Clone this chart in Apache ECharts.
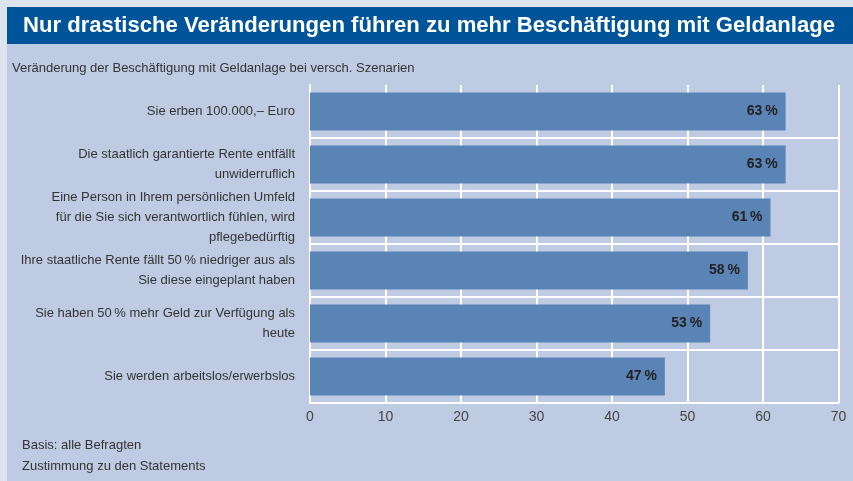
<!DOCTYPE html>
<html>
<head>
<meta charset="utf-8">
<script src="https://cdn.jsdelivr.net/npm/echarts@6/dist/echarts.min.js"></script>
<style>
  html, body { margin: 0; padding: 0; }
  #chart { width: 853px; height: 481px; }
</style>
</head>
<body>
<div id="chart"></div>
<script>
// Szenarien, von oben nach unten
let categories = [
  'Sie erben 100.000,– Euro',
  'Die staatlich garantierte Rente entfällt\nunwiderruflich',
  'Eine Person in Ihrem persönlichen Umfeld\nfür die Sie sich verantwortlich fühlen, wird\npflegebedürftig',
  'Ihre staatliche Rente fällt 50\u202f% niedriger aus als\nSie diese eingeplant haben',
  'Sie haben 50\u202f% mehr Geld zur Verfügung als\nheute',
  'Sie werden arbeitslos/erwerbslos'
];
let values = [63, 63, 61, 58, 53, 47];
let xTicks = [0, 10, 20, 30, 40, 50, 60, 70];

let titleText = 'Nur drastische Veränderungen führen zu mehr Beschäftigung mit Geldanlage';
let fontName = '"Liberation Sans", Arial, sans-serif';

// Titel auf die Breite des Originals stauchen (schmale Schrift nicht vorhanden)
let titleFont = 'bold 22px ' + fontName;
let ctx = document.createElement('canvas').getContext('2d');
ctx.font = titleFont;
let titleScale = 812 / ctx.measureText(titleText).width;

let chart = echarts.init(document.getElementById('chart'), null, { renderer: 'canvas' });

let option = {
  backgroundColor: '#dde4f0',
  animation: false,
  textStyle: { fontFamily: fontName },
  graphic: [
    {
      type: 'rect',
      shape: { x: 7, y: 44, width: 846, height: 437 },
      style: { fill: '#bfcbe3' },
      z: -10
    },
    {
      type: 'rect',
      shape: { x: 7, y: 7, width: 846, height: 37 },
      style: { fill: '#00559a' },
      z: -10
    },
    {
      type: 'text',
      x: 23,
      y: 26,
      scaleX: titleScale,
      style: {
        text: titleText,
        fill: '#ffffff',
        font: titleFont,
        verticalAlign: 'middle'
      }
    },
    {
      type: 'text',
      left: 12,
      top: 62,
      style: {
        text: 'Veränderung der Beschäftigung mit Geldanlage bei versch. Szenarien',
        fill: '#333333',
        font: '13px ' + fontName
      }
    },
    {
      type: 'text',
      left: 22,
      top: 435,
      style: {
        text: 'Basis: alle Befragten\nZustimmung zu den Statements',
        fill: '#333333',
        font: '13px ' + fontName,
        lineHeight: 21
      }
    }
  ],
  grid: {
    left: 310,
    right: 14.5,
    top: 85,
    bottom: 78,
    containLabel: false
  },
  xAxis: {
    type: 'value',
    min: 0,
    max: 70,
    interval: 10,
    axisLine: { show: true, lineStyle: { color: '#ffffff', width: 2 } },
    axisTick: { show: false },
    axisLabel: {
      color: '#444444',
      fontSize: 14,
      margin: 7,
      fontFamily: fontName,
      customValues: xTicks
    },
    splitLine: { show: true, lineStyle: { color: '#ffffff', width: 2 } }
  },
  yAxis: {
    type: 'category',
    data: categories,
    inverse: true,
    axisLine: { show: true, lineStyle: { color: '#ffffff', width: 2 } },
    axisTick: { show: false },
    axisLabel: {
      color: '#333333',
      fontSize: 13,
      lineHeight: 20,
      margin: 15,
      align: 'right',
      fontFamily: fontName
    },
    splitLine: {
      show: true,
      lineStyle: { color: ['rgba(0,0,0,0)', '#ffffff', '#ffffff', '#ffffff', '#ffffff', '#ffffff', '#ffffff'], width: 2 }
    }
  },
  series: [
    {
      type: 'bar',
      data: values,
      barWidth: 38,
      itemStyle: { color: '#5a84b6' },
      label: {
        show: true,
        position: 'insideRight',
        distance: 8,
        color: '#222222',
        fontWeight: 'bold',
        fontSize: 14,
        fontFamily: fontName,
        formatter: function (p) {
          return p.value + '\u202f%';
        }
      }
    }
  ]
};

chart.setOption(option);
</script>
</body>
</html>
